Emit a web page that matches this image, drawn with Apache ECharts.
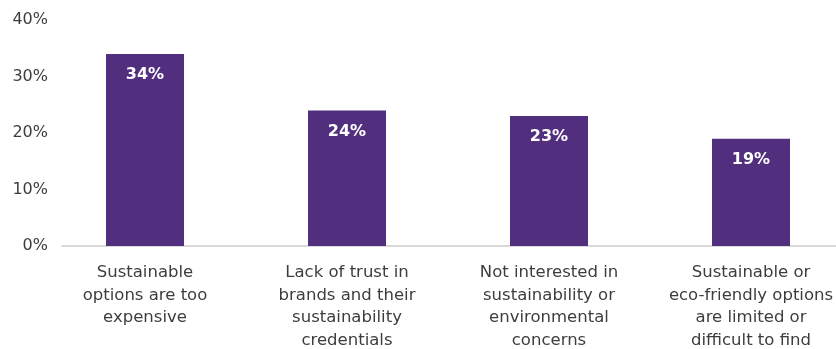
<!DOCTYPE html>
<html>
<head>
<meta charset="utf-8">
<script src="https://cdn.jsdelivr.net/npm/echarts@6/dist/echarts.min.js"></script>
<style>
  html, body { margin: 0; padding: 0; background: #ffffff; }
  #chart { width: 836px; height: 349px; }
</style>
</head>
<body>
<div id="chart"></div>
<script>
// Reasons for not buying sustainable products (% of respondents)
const categories = [
  'Sustainable\noptions are too\nexpensive',
  'Lack of trust in\nbrands and their\nsustainability\ncredentials',
  'Not interested in\nsustainability or\nenvironmental\nconcerns',
  'Sustainable or\neco-friendly options\nare limited or\ndifficult to find'
];
const shares = [34, 24, 23, 19];
const yTicks = [0, 10, 20, 30, 40];

const textColor = '#3d3d3d';
const barColor = '#522e7f';
const fontFamily = '"DejaVu Sans", sans-serif';

const chart = echarts.init(document.getElementById('chart'), null, { renderer: 'canvas' });

chart.setOption({
  animation: false,
  backgroundColor: '#ffffff',
  grid: [
    // plotting area for the bars
    { left: 44, width: 808, top: 20, bottom: 103, outerBoundsMode: 'none', containLabel: false },
    // baseline strip
    { left: 62, right: 0, top: 20, bottom: 103, outerBoundsMode: 'none', containLabel: false }
  ],
  xAxis: [
    {
      type: 'category',
      gridIndex: 0,
      data: categories,
      axisLine: { show: false },
      axisTick: { show: false },
      axisLabel: {
        color: textColor,
        fontFamily: fontFamily,
        fontSize: 16.5,
        lineHeight: 22.4,
        margin: 16,
        interval: 0,
        align: 'center'
      }
    },
    {
      type: 'category',
      gridIndex: 1,
      data: [''],
      axisLine: { show: true, lineStyle: { color: '#d9d9d9', width: 2 } },
      axisTick: { show: false },
      axisLabel: { show: false }
    }
  ],
  yAxis: [
    {
      type: 'value',
      gridIndex: 0,
      min: yTicks[0],
      max: yTicks[yTicks.length - 1],
      interval: 10,
      axisLine: { show: false },
      axisTick: { show: false },
      splitLine: { show: false },
      axisLabel: {
        formatter: '{value}%',
        color: textColor,
        fontFamily: fontFamily,
        fontSize: 16,
        margin: -4
      }
    },
    {
      type: 'value',
      gridIndex: 1,
      min: 0,
      max: 40,
      show: false
    }
  ],
  series: [
    {
      type: 'bar',
      xAxisIndex: 0,
      yAxisIndex: 0,
      data: shares,
      barWidth: 78,
      itemStyle: { color: barColor },
      label: {
        show: true,
        position: 'insideTop',
        distance: 13,
        formatter: '{c}%',
        color: '#ffffff',
        fontFamily: fontFamily,
        fontWeight: 'bold',
        fontSize: 16
      }
    }
  ]
});
</script>
</body>
</html>
